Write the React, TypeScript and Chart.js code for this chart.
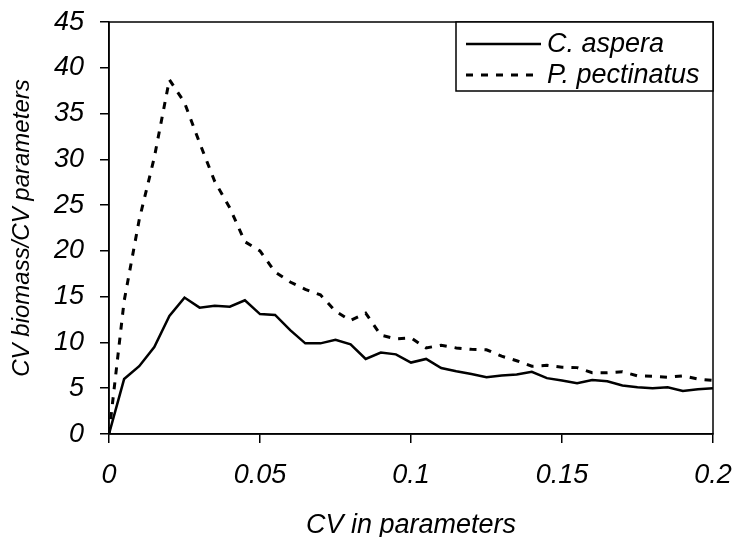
import { useEffect, useRef } from 'react';
import { Chart, registerables } from 'chart.js';

Chart.register(...registerables);

// CV in parameters (x positions of the simulated points)
const cvParams = [
  0, 0.005, 0.01, 0.015, 0.02, 0.025, 0.03, 0.035, 0.04, 0.045,
  0.05, 0.055, 0.06, 0.065, 0.07, 0.075, 0.08, 0.085, 0.09, 0.095,
  0.1, 0.105, 0.11, 0.115, 0.12, 0.125, 0.13, 0.135, 0.14, 0.145,
  0.15, 0.155, 0.16, 0.165, 0.17, 0.175, 0.18, 0.185, 0.19, 0.195, 0.2,
];

const cAspera = [
  0, 6.0, 7.4, 9.5, 12.9, 14.9, 13.8, 14.0, 13.9, 14.6,
  13.1, 13.0, 11.35, 9.9, 9.9, 10.3, 9.8, 8.2, 8.9, 8.7,
  7.8, 8.2, 7.2, 6.85, 6.55, 6.2, 6.4, 6.5, 6.8, 6.1,
  5.85, 5.55, 5.9, 5.75, 5.3, 5.1, 5.0, 5.1, 4.7, 4.9, 5.0,
];

const pPectinatus = [
  0, 14.5, 23.4, 30.2, 38.7, 36.2, 31.8, 27.6, 24.7, 21.0,
  20.0, 17.7, 16.6, 15.8, 15.2, 13.4, 12.4, 13.2, 10.8, 10.4,
  10.5, 9.4, 9.7, 9.4, 9.25, 9.2, 8.5, 8.0, 7.4, 7.5,
  7.3, 7.25, 6.7, 6.7, 6.8, 6.35, 6.3, 6.2, 6.35, 6.0, 5.85,
];

const seriesNames = ['C. aspera', 'P. pectinatus'];
const xTickValues = [0, 0.05, 0.1, 0.15, 0.2];
const xTickLabels = ['0', '0.05', '0.1', '0.15', '0.2'];
const xTitle = 'CV in parameters';
const yTitle = 'CV biomass/CV parameters';

const FAMILY = "'Liberation Sans', Arial, Helvetica, sans-serif";

export default function App() {
  const ref = useRef<HTMLCanvasElement | null>(null);

  useEffect(() => {
    document.body.style.margin = '0';
    const canvas = ref.current;
    if (!canvas) return;

    const plotFrame = {
      id: 'plotFrame',
      afterDatasetsDraw(chart: any) {
        const { ctx, chartArea } = chart;
        ctx.save();
        ctx.strokeStyle = '#000';
        ctx.lineWidth = 1.5;
        ctx.strokeRect(chartArea.left, chartArea.top, chartArea.right - chartArea.left, chartArea.bottom - chartArea.top);
        ctx.restore();
      },
    };

    const boxLegend = {
      id: 'boxLegend',
      afterDraw(chart: any) {
        const { ctx, chartArea } = chart;
        const boxRight = chartArea.right;
        const boxLeft = chartArea.right - 257;
        const boxTop = chartArea.top;
        const boxBottom = chartArea.top + 69;
        ctx.save();
        ctx.fillStyle = '#fff';
        ctx.fillRect(boxLeft, boxTop, boxRight - boxLeft, boxBottom - boxTop);
        ctx.strokeStyle = '#000';
        ctx.lineWidth = 1.5;
        ctx.strokeRect(boxLeft, boxTop, boxRight - boxLeft, boxBottom - boxTop);
        const rows = [boxTop + 22, boxTop + 53];
        chart.data.datasets.forEach((ds: any, i: number) => {
          const y = rows[i];
          ctx.beginPath();
          ctx.setLineDash(ds.borderDash || []);
          ctx.lineWidth = ds.borderWidth;
          ctx.strokeStyle = ds.borderColor;
          ctx.moveTo(boxLeft + 10, y);
          ctx.lineTo(boxLeft + 85, y);
          ctx.stroke();
          ctx.setLineDash([]);
          ctx.fillStyle = '#000';
          ctx.font = `italic 27px ${FAMILY}`;
          ctx.textBaseline = 'middle';
          ctx.textAlign = 'left';
          ctx.fillText(ds.label, boxLeft + 91, y);
        });
        ctx.restore();
      },
    };

    const chart = new Chart(canvas, {
      type: 'line',
      data: {
        datasets: [
          {
            label: seriesNames[0],
            data: cvParams.map((x, i) => ({ x, y: cAspera[i] })),
            borderColor: '#000',
            borderWidth: 2.5,
            pointRadius: 0,
            tension: 0,
            fill: false,
          },
          {
            label: seriesNames[1],
            data: cvParams.map((x, i) => ({ x, y: pPectinatus[i] })),
            borderColor: '#000',
            borderWidth: 3,
            borderDash: [7, 8],
            pointRadius: 0,
            tension: 0,
            fill: false,
          },
        ],
      },
      options: {
        responsive: false,
        animation: false,
        layout: { padding: { top: 22, right: 20, left: 0, bottom: 0 } },
        plugins: { legend: { display: false }, tooltip: { enabled: false } },
        scales: {
          x: {
            type: 'linear',
            min: 0,
            max: 0.2,
            afterFit: (s: any) => {
              s.height = 103;
              s.paddingLeft = 0;
              s.paddingRight = 0;
              s.paddingTop = 0;
              s.paddingBottom = 0;
            },
            afterBuildTicks: (s: any) => { s.ticks = xTickValues.map((v) => ({ value: v })); },
            ticks: {
              autoSkip: false,
              maxRotation: 0,
              color: '#000',
              padding: 16,
              font: { family: FAMILY, size: 27, style: 'italic', lineHeight: 1.2 },
              callback: (v: any) => {
                const idx = xTickValues.findIndex((t) => Math.abs(t - Number(v)) < 1e-9);
                return idx >= 0 ? xTickLabels[idx] : '';
              },
            },
            grid: { drawOnChartArea: false, drawTicks: true, tickLength: 9, color: '#000', lineWidth: 1.5 },
            border: { display: true, color: '#000', width: 1.5 },
            title: {
              display: true,
              text: xTitle,
              color: '#000',
              font: { family: FAMILY, size: 27, style: 'italic', lineHeight: 1 },
              padding: { top: 0, bottom: -2 },
            },
          },
          y: {
            type: 'linear',
            min: 0,
            max: 45,
            afterFit: (s: any) => {
              s.width = 109;
              s.paddingLeft = 0;
              s.paddingRight = 0;
              s.paddingTop = 0;
              s.paddingBottom = 0;
            },
            ticks: {
              stepSize: 5,
              color: '#000',
              padding: 16,
              font: { family: FAMILY, size: 27, style: 'italic', lineHeight: 1.2 },
            },
            grid: { drawOnChartArea: false, drawTicks: true, tickLength: 9, color: '#000', lineWidth: 1.5 },
            border: { display: true, color: '#000', width: 1.5 },
            title: {
              display: true,
              text: yTitle,
              color: '#000',
              font: { family: FAMILY, size: 24, style: 'italic', lineHeight: 1 },
              padding: { top: 10, bottom: 0 },
            },
          },
        },
      },
      plugins: [plotFrame, boxLegend],
    } as any);

    return () => chart.destroy();
  }, []);

  return (
    <div style={{ width: 733, height: 537, position: 'relative', background: '#fff' }}>
      <canvas ref={ref} width={733} height={537} />
    </div>
  );
}
